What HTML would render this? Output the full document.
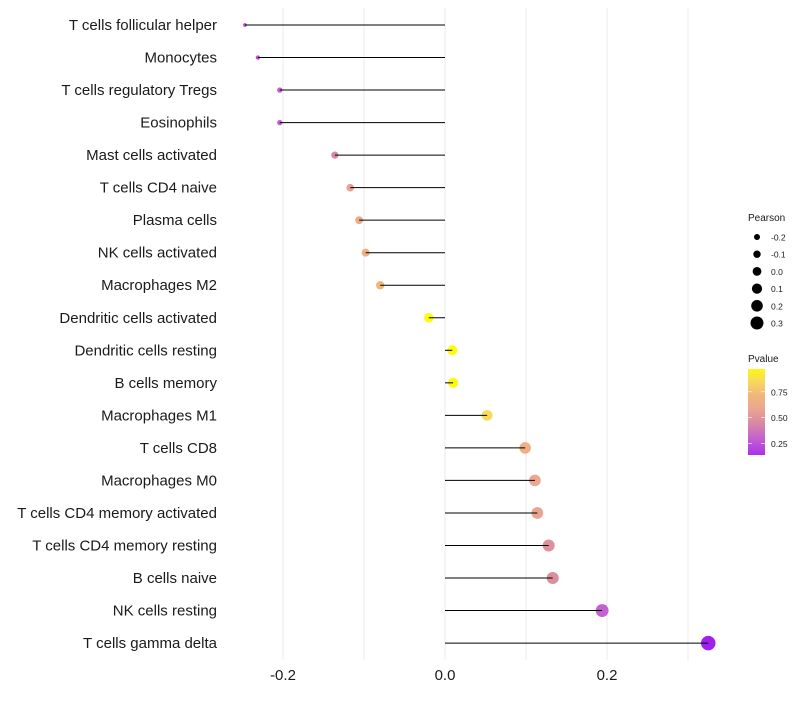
<!DOCTYPE html>
<html><head><meta charset="utf-8"><style>
body{margin:0;background:#fff;font-family:"Liberation Sans",sans-serif;}
</style></head><body>
<svg id="c" width="800" height="700" xmlns="http://www.w3.org/2000/svg" style="white-space:pre"></svg>
<script>
const categories=["T cells follicular helper","Monocytes","T cells regulatory  Tregs ","Eosinophils","Mast cells activated","T cells CD4 naive","Plasma cells","NK cells activated","Macrophages M2","Dendritic cells activated","Dendritic cells resting","B cells memory","Macrophages M1","T cells CD8","Macrophages M0","T cells CD4 memory activated","T cells CD4 memory resting","B cells naive","NK cells resting","T cells gamma delta"];
const pearson=[-0.247,-0.231,-0.204,-0.204,-0.136,-0.117,-0.106,-0.098,-0.080,-0.020,0.009,0.010,0.052,0.099,0.111,0.114,0.128,0.133,0.194,0.325];
const pvalue=[0.22,0.25,0.3,0.3,0.45,0.57,0.62,0.66,0.72,0.98,0.99,0.98,0.86,0.66,0.6,0.58,0.48,0.47,0.3,0.08];
const xTicks=[-0.2,0,0.2];
const xTickLabels=["-0.2","0.0","0.2"];
const legendPearson=[-0.2,-0.1,0.0,0.1,0.2,0.3];
const legendP=[0.75,0.50,0.25];

const NS="http://www.w3.org/2000/svg";
const svg=document.getElementById('c');
function el(t,a){const e=document.createElementNS(NS,t);for(const k in a)e.setAttribute(k,a[k]);svg.appendChild(e);return e;}
const X=v=>445+v*810;
const Y=i=>25+i*32.53;
const R=v=>Math.sqrt(Math.max(2.2,3.2+(v+0.25)*86));
const stops=[[0.08,[160,32,240]],[0.3,[196,96,208]],[0.45,[217,138,160]],[0.6,[235,168,144]],[0.72,[240,184,120]],[0.85,[248,216,96]],[1,[255,255,0]]];
function col(p){p=Math.max(0.08,Math.min(1,p));for(let i=1;i<stops.length;i++){if(p<=stops[i][0]){const a=stops[i-1],b=stops[i],t=(p-a[0])/(b[0]-a[0]);const c=a[1].map((x,j)=>Math.round(x+(b[1][j]-x)*t));return`rgb(${c})`;}}return'rgb(255,255,0)';}

for(let v=-0.2;v<=0.31;v+=0.1){const g=el('line',{x1:X(v),x2:X(v),y1:8,y2:660,stroke:'#ebebeb','stroke-width':1});

}
xTicks.forEach((v,i)=>{const t=el('text',{x:X(v),y:680,'text-anchor':'middle','font-size':15,fill:'#1a1a1a'});t.textContent=xTickLabels[i];

});
categories.forEach((c,i)=>{
const y=Y(i);
const t=el('text',{x:217,y:y+5,'text-anchor':'end','font-size':15,fill:'#1a1a1a'});t.textContent=c;


const p=el('circle',{cx:X(pearson[i]),cy:y,r:R(pearson[i]),fill:col(pvalue[i])});


const l=el('line',{x1:X(0),x2:X(pearson[i]),y1:y,y2:y,stroke:'#000','stroke-width':1});


});
const lt=el('text',{x:748,y:221,'font-size':10,fill:'#1a1a1a'});lt.textContent='Pearson';


legendPearson.forEach((v,i)=>{const y=237+i*17.2;
const c=el('circle',{cx:757,cy:y,r:3+(v+0.2)*7,fill:'#000'});


const t=el('text',{x:771,y:y+3.5,'font-size':8.5,fill:'#1a1a1a'});t.textContent=v.toFixed(1);

});
const pt=el('text',{x:748,y:362,'font-size':10,fill:'#1a1a1a'});pt.textContent='Pvalue';


const defs=el('defs',{});
const lg=document.createElementNS(NS,'linearGradient');lg.setAttribute('id','g');lg.setAttribute('x1',0);lg.setAttribute('x2',0);lg.setAttribute('y1',1);lg.setAttribute('y2',0);defs.appendChild(lg);
[0.14,0.3,0.45,0.6,0.72,0.85,0.97].forEach(p=>{const s=document.createElementNS(NS,'stop');s.setAttribute('offset',(p-0.14)/(0.97-0.14));s.setAttribute('stop-color',col(p));lg.appendChild(s);});
const bar=el('rect',{x:748,y:369,width:17,height:86,fill:'url(#g)'});


legendP.forEach(p=>{const y=455-(p-0.14)/(0.97-0.14)*86;
el('line',{x1:748,x2:752,y1:y,y2:y,stroke:'#fff','stroke-width':0.6});el('line',{x1:761,x2:765,y1:y,y2:y,stroke:'#fff','stroke-width':0.6});
const t=el('text',{x:771,y:y+3.5,'font-size':8.5,fill:'#1a1a1a'});t.textContent=p.toFixed(2);

});
</script>
</body></html>
